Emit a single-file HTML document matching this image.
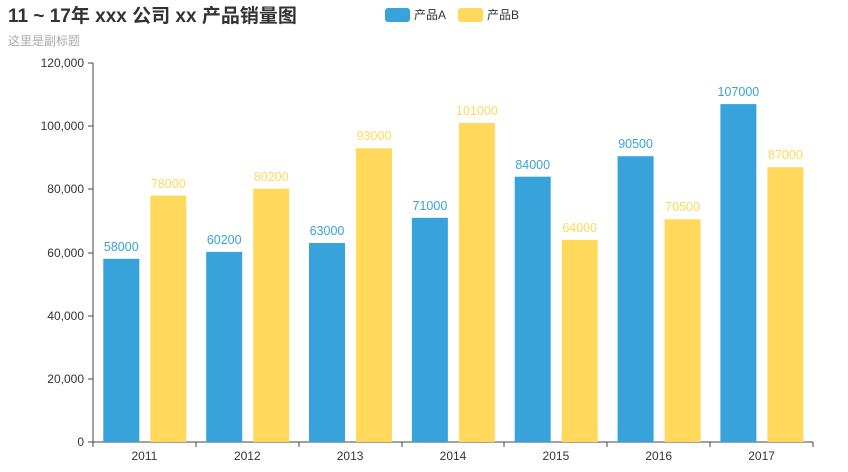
<!DOCTYPE html>
<html><head><meta charset="utf-8"><style>
html,body{margin:0;padding:0;background:#fff;}
svg{display:block;font-family:"Liberation Sans","Noto Sans CJK SC",sans-serif;}
</style></head><body>
<svg width="848" height="472" viewBox="0 0 848 472" xmlns="http://www.w3.org/2000/svg">
<text x="8" y="22" font-size="19" font-weight="bold" fill="#333">11 ~ 17年 xxx 公司 xx 产品销量图</text>
<text x="8" y="45" font-size="12" fill="#aaa">这里是副标题</text>
<rect x="385" y="8" width="25" height="14" rx="3" fill="#38a3da"/>
<text x="414" y="19" font-size="12" fill="#333">产品A</text>
<rect x="458" y="8" width="25" height="14" rx="3" fill="#ffd85c"/>
<text x="487" y="19" font-size="12" fill="#333">产品B</text>
<g stroke="#444" stroke-width="1" shape-rendering="crispEdges">
<line x1="93" y1="63" x2="93" y2="442"/>
<line x1="93" y1="442" x2="813" y2="442"/>
<line x1="88" y1="63" x2="93" y2="63"/><line x1="88" y1="126" x2="93" y2="126"/><line x1="88" y1="189" x2="93" y2="189"/><line x1="88" y1="253" x2="93" y2="253"/><line x1="88" y1="316" x2="93" y2="316"/><line x1="88" y1="379" x2="93" y2="379"/><line x1="88" y1="442" x2="93" y2="442"/>
<line x1="93" y1="442" x2="93" y2="447"/><line x1="196" y1="442" x2="196" y2="447"/><line x1="299" y1="442" x2="299" y2="447"/><line x1="402" y1="442" x2="402" y2="447"/><line x1="504" y1="442" x2="504" y2="447"/><line x1="607" y1="442" x2="607" y2="447"/><line x1="710" y1="442" x2="710" y2="447"/><line x1="813" y1="442" x2="813" y2="447"/>
</g>
<g font-size="12" fill="#333" text-anchor="end">
<text x="84" y="67">120,000</text><text x="84" y="130">100,000</text><text x="84" y="193">80,000</text><text x="84" y="257">60,000</text><text x="84" y="320">40,000</text><text x="84" y="383">20,000</text><text x="84" y="446">0</text>
</g>
<g font-size="12" fill="#333" text-anchor="middle">
<text x="144.4" y="460">2011</text><text x="247.3" y="460">2012</text><text x="350.1" y="460">2013</text><text x="453" y="460">2014</text><text x="555.9" y="460">2015</text><text x="658.7" y="460">2016</text><text x="761.6" y="460">2017</text>
</g>
<g fill="#38a3da">
<rect x="103.3" y="258.8" width="36" height="183.2"/>
<rect x="206.2" y="251.9" width="36" height="190.1"/>
<rect x="309" y="243" width="36" height="199"/>
<rect x="411.9" y="217.8" width="36" height="224.2"/>
<rect x="514.7" y="176.7" width="36" height="265.3"/>
<rect x="617.6" y="156.2" width="36" height="285.8"/>
<rect x="720.4" y="104.1" width="36" height="337.9"/>
</g>
<g fill="#ffd85c">
<rect x="150.3" y="195.6" width="36" height="246.4"/>
<rect x="253.2" y="188.7" width="36" height="253.3"/>
<rect x="356" y="148.3" width="36" height="293.7"/>
<rect x="458.9" y="123" width="36" height="319"/>
<rect x="561.7" y="239.9" width="36" height="202.1"/>
<rect x="664.6" y="219.3" width="36" height="222.7"/>
<rect x="767.4" y="167.2" width="36" height="274.8"/>
</g>
<g font-size="12.5" fill="#38a3da" text-anchor="middle">
<text x="121.3" y="251">58000</text><text x="224.2" y="244">60200</text><text x="327" y="235">63000</text><text x="429.9" y="210">71000</text><text x="532.7" y="169">84000</text><text x="635.6" y="148">90500</text><text x="738.4" y="96">107000</text>
</g>
<g font-size="12.5" fill="#ffd85c" text-anchor="middle">
<text x="168.3" y="188">78000</text><text x="271.2" y="181">80200</text><text x="374" y="140">93000</text><text x="476.9" y="115">101000</text><text x="579.7" y="232">64000</text><text x="682.6" y="211">70500</text><text x="785.4" y="159">87000</text>
</g>
</svg>
</body></html>
